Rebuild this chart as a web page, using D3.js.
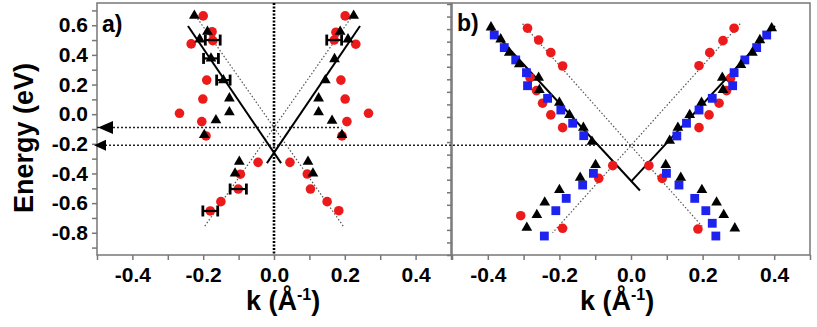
<!DOCTYPE html>
<html>
<head>
<meta charset="utf-8">
<script src="https://cdn.jsdelivr.net/npm/d3@7"></script>
<style>
  body { margin: 0; background: #fff; }
  svg text { font-family: "Liberation Sans", Arial, sans-serif; font-weight: bold; fill: #000; }
</style>
</head>
<body>
<div id="chart"></div>
<script>
'use strict';

// ticks and labels
var kTicks = [-0.5, -0.4, -0.3, -0.2, -0.1, 0, 0.1, 0.2, 0.3, 0.4, 0.5];
var kLabels = [-0.4, -0.2, 0, 0.2, 0.4];
var eTicks = [0.7, 0.6, 0.5, 0.4, 0.3, 0.2, 0.1, 0, -0.1, -0.2, -0.3, -0.4, -0.5, -0.6, -0.7, -0.8, -0.9];
var eLabels = [0.6, 0.4, 0.2, 0, -0.2, -0.4, -0.6, -0.8];

// panel a) data, [k, E]
var aCircles = [
    [-0.20, 0.663], [-0.175, 0.556], [-0.234, 0.474], [-0.173, 0.496], [-0.19, 0.23],
    [-0.201, 0.102], [-0.267, 0.006], [-0.204, -0.05], [-0.192, -0.147],
    [-0.045, -0.325], [-0.095, -0.405], [-0.101, -0.505], [-0.15, -0.59], [-0.18, -0.653],
    [0.201, 0.663], [0.175, 0.553], [0.17, 0.5], [0.231, 0.472], [0.189, 0.23],
    [0.201, 0.102], [0.267, 0.006], [0.206, -0.05], [0.192, -0.147],
    [0.045, -0.325], [0.094, -0.404], [0.103, -0.505], [0.15, -0.59], [0.183, -0.651]
];
var aTriangles = [
    [-0.225, 0.665], [-0.188, 0.557], [-0.21, 0.505], [-0.178, 0.376], [-0.143, 0.23],
    [-0.126, 0.107], [-0.126, 0.013], [-0.164, -0.04], [-0.197, -0.14],
    [-0.098, -0.32], [-0.11, -0.4],
    [0.225, 0.665], [0.187, 0.557], [0.209, 0.505], [0.171, 0.372], [0.145, 0.23],
    [0.126, 0.107], [0.126, 0.013], [0.164, -0.044], [0.192, -0.14],
    [0.096, -0.32], [0.11, -0.4]
];
// [k, E, half width]
var aErrors = [
    [-0.173, 0.5, 0.021], [-0.178, 0.376, 0.021], [-0.143, 0.23, 0.019],
    [-0.101, -0.505, 0.023], [-0.18, -0.653, 0.021], [0.17, 0.5, 0.021]
];
var aSolid = [
    [[-0.243, 0.595], [0.02, -0.33]],
    [[0.243, 0.595], [-0.02, -0.33]]
];
var aDotted = [
    [[-0.216, 0.645], [0.197, -0.76]],
    [[0.216, 0.645], [-0.197, -0.76]]
];

// panel b) data, [k, E]
var bTriangles = [
    [-0.391, 0.586], [-0.364, 0.505], [-0.34, 0.415], [-0.312, 0.337], [-0.258, 0.246],
    [-0.256, 0.163], [-0.2, 0.078], [-0.172, -0.005], [-0.133, -0.091], [-0.109, -0.186],
    [-0.099, -0.343], [-0.142, -0.428], [-0.2, -0.511], [-0.241, -0.595], [-0.263, -0.68], [-0.291, -0.766],
    [0.393, 0.58], [0.36, 0.5], [0.339, 0.415], [0.307, 0.332], [0.255, 0.246],
    [0.257, 0.163], [0.197, 0.078], [0.164, -0.005], [0.131, -0.091], [0.108, -0.179],
    [0.097, -0.343], [0.139, -0.428], [0.198, -0.511], [0.239, -0.595], [0.259, -0.68], [0.29, -0.77]
];
var bSquares = [
    [-0.382, 0.534], [-0.354, 0.449], [-0.322, 0.366], [-0.292, 0.28], [-0.289, 0.192],
    [-0.233, 0.107], [-0.196, 0.028], [-0.163, -0.061], [-0.132, -0.145],
    [-0.105, -0.399], [-0.135, -0.478], [-0.181, -0.568], [-0.21, -0.651], [-0.242, -0.822],
    [0.379, 0.534], [0.351, 0.449], [0.318, 0.366], [0.288, 0.28], [0.284, 0.192],
    [0.227, 0.107], [0.19, 0.028], [0.155, -0.061], [0.128, -0.147],
    [0.099, -0.399], [0.134, -0.478], [0.178, -0.568], [0.209, -0.651], [0.227, -0.736], [0.237, -0.822]
];
var bCircles = [
    [-0.289, 0.58], [-0.258, 0.5], [-0.224, 0.415], [-0.191, 0.325],
    [-0.282, 0.246], [-0.264, 0.159], [-0.247, 0.074], [-0.224, -0.005], [-0.191, -0.091],
    [-0.051, -0.347], [-0.09, -0.433], [-0.308, -0.685], [-0.191, -0.77],
    [0.288, 0.58], [0.257, 0.496], [0.22, 0.415], [0.19, 0.327],
    [0.278, 0.242], [0.267, 0.159], [0.246, 0.074], [0.218, -0.005], [0.19, -0.091],
    [0.05, -0.347], [0.087, -0.433], [0.187, -0.775]
];
var bSolid = [
    [[-0.395, 0.585], [0.025, -0.515]],
    [[0, -0.455], [0.402, 0.595]]
];
var bDotted = [
    [[-0.303, 0.61], [0.2, -0.76]],
    [[0.305, 0.61], [-0.219, -0.8]]
];

// horizontal guide lines with arrows (energy, end k in a, end k in b or null)
var guideE = [-0.09, -0.21];
var guideEndA = [0.19, null];
var guideEndB = [null, 0.088];

var width = 817,
    height = 327;

var red = '#ec1a1a',
    blue = '#1e22ee',
    frameColor = '#777';

var svg = d3.select('#chart').append('svg')
    .attr('width', width)
    .attr('height', height);

var y = d3.scaleLinear().domain([-0.95, 0.75]).range([255, 3]);
var xA = d3.scaleLinear().domain([-0.5, 0.5]).range([97, 451]);
var xB = d3.scaleLinear().domain([-0.5, 0.5]).range([452, 810]);
// panel b has its own finer tick marks on the left
var yTickB = d3.scaleLinear().domain([0, 20]).range([255, 4]);

var fmt = function(v) {
    if (Math.abs(v) < 1e-9) return '0.0';
    return (v < 0 ? '-' : '') + Math.abs(v).toFixed(1);
};
var hasLabel = function(list, v) {
    return list.some(function(l) { return Math.abs(l - v) < 1e-9; });
};

function styleAxis(g) {
    g.select('.domain').remove();
    g.selectAll('.tick line').attr('stroke', frameColor).attr('stroke-width', 1.5);
    g.selectAll('.tick text')
        .attr('font-size', 21)
        .attr('font-family', '"Liberation Sans", Arial, sans-serif')
        .attr('font-weight', 'bold')
        .attr('fill', '#000');
}

// frames
[xA, xB].forEach(function(x) {
    svg.append('rect')
        .attr('x', x.range()[0])
        .attr('y', y.range()[1])
        .attr('width', x.range()[1] - x.range()[0])
        .attr('height', y.range()[0] - y.range()[1])
        .attr('fill', 'none')
        .attr('stroke', frameColor)
        .attr('stroke-width', 1.5);
});

// axes
svg.append('g')
    .attr('transform', 'translate(' + xA.range()[0] + ',0)')
    .call(d3.axisLeft(y).tickValues(eTicks).tickSize(5).tickPadding(4)
        .tickFormat(function(d) { return hasLabel(eLabels, d) ? fmt(d) : ''; }))
    .call(styleAxis);

svg.append('g')
    .attr('transform', 'translate(' + xB.range()[0] + ',0)')
    .call(d3.axisLeft(yTickB).ticks(20).tickSize(5).tickFormat(''))
    .call(styleAxis);

[xA, xB].forEach(function(x) {
    svg.append('g')
        .attr('transform', 'translate(0,' + y.range()[0] + ')')
        .call(d3.axisBottom(x).tickValues(kTicks).tickSize(5).tickPadding(7)
            .tickFormat(function(d) { return hasLabel(kLabels, d) ? fmt(d) : ''; }))
        .call(styleAxis);
});

function drawPanel(x, lines, dotted, circles, squares, triangles) {
    var g = svg.append('g');
    var line = d3.line()
        .x(function(d) { return x(d[0]); })
        .y(function(d) { return y(d[1]); });

    g.selectAll('path.dotted')
        .data(dotted)
        .enter()
        .append('path')
        .attr('class', 'dotted')
        .attr('d', line)
        .attr('fill', 'none')
        .attr('stroke', '#555')
        .attr('stroke-width', 1.2)
        .attr('stroke-dasharray', '1.5,2');

    g.selectAll('path.solid')
        .data(lines)
        .enter()
        .append('path')
        .attr('class', 'solid')
        .attr('d', line)
        .attr('fill', 'none')
        .attr('stroke', '#000')
        .attr('stroke-width', 2);

    g.selectAll('circle')
        .data(circles)
        .enter()
        .append('circle')
        .attr('cx', function(d) { return x(d[0]); })
        .attr('cy', function(d) { return y(d[1]); })
        .attr('r', 4.8)
        .attr('fill', red);

    g.selectAll('path.sq')
        .data(squares)
        .enter()
        .append('path')
        .attr('class', 'sq')
        .attr('d', d3.symbol().type(d3.symbolSquare).size(78))
        .attr('transform', function(d) { return 'translate(' + x(d[0]) + ',' + y(d[1]) + ')'; })
        .attr('fill', blue);

    g.selectAll('path.tri')
        .data(triangles)
        .enter()
        .append('path')
        .attr('class', 'tri')
        .attr('d', d3.symbol().type(d3.symbolTriangle).size(50))
        .attr('transform', function(d) { return 'translate(' + x(d[0]) + ',' + y(d[1]) + ')'; })
        .attr('fill', '#000');

    return g;
}

// vertical dotted line at k = 0 in panel a
svg.append('line')
    .attr('x1', xA(0)).attr('x2', xA(0))
    .attr('y1', y.range()[1]).attr('y2', y.range()[0])
    .attr('stroke', '#000')
    .attr('stroke-width', 2.6)
    .attr('stroke-dasharray', '2,1.5');

// horizontal guides across the panels
guideE.forEach(function(e, i) {
    var xEnd = guideEndA[i] !== null ? xA(guideEndA[i]) : xB(guideEndB[i]);
    svg.append('line')
        .attr('x1', xA(-0.5)).attr('x2', xEnd)
        .attr('y1', y(e)).attr('y2', y(e))
        .attr('stroke', '#222')
        .attr('stroke-width', 1.6)
        .attr('stroke-dasharray', '2,2');
});

drawPanel(xA, aSolid, aDotted, aCircles, [], aTriangles);
drawPanel(xB, bSolid, bDotted, bCircles, bSquares, bTriangles);

// error bars in panel a
var eb = svg.append('g').attr('stroke', '#000').attr('stroke-width', 2.2);
aErrors.forEach(function(d) {
    var x0 = xA(d[0] - d[2]), x1 = xA(d[0] + d[2]), yy = y(d[1]);
    eb.append('line').attr('x1', x0).attr('x2', x1).attr('y1', yy).attr('y2', yy);
    eb.append('line').attr('x1', x0).attr('x2', x0).attr('y1', yy - 5.5).attr('y2', yy + 5.5).attr('stroke-width', 2.8);
    eb.append('line').attr('x1', x1).attr('x2', x1).attr('y1', yy - 5.5).attr('y2', yy + 5.5).attr('stroke-width', 2.8);
});

// arrowheads on the left axis
svg.selectAll('path.arrow')
    .data(guideE)
    .enter()
    .append('path')
    .attr('class', 'arrow')
    .attr('d', function(e, i) {
        var tip = xA(-0.5) + (i === 0 ? 1 : -3),
            w = i === 0 ? 15 : 12,
            h = i === 0 ? 6.5 : 5.5,
            yy = y(e);
        return 'M' + tip + ',' + yy + 'L' + (tip + w) + ',' + (yy - h) + 'L' + (tip + w) + ',' + (yy + h) + 'Z';
    })
    .attr('fill', '#000');

// panel labels
svg.append('text').attr('x', 102).attr('y', 32).attr('font-size', 23).text('a)');
svg.append('text').attr('x', 457).attr('y', 31).attr('font-size', 23).text('b)');

// axis titles
svg.append('text')
    .attr('transform', 'translate(33,138) rotate(-90)')
    .attr('text-anchor', 'middle')
    .attr('font-size', 27)
    .text('Energy (eV)');

[[xA, 9], [xB, -14]].forEach(function(p) {
    var t = svg.append('text')
        .attr('x', p[0](0) + p[1])
        .attr('y', 310)
        .attr('text-anchor', 'middle')
        .attr('font-size', 27);
    t.append('tspan').text('k (Å');
    t.append('tspan').attr('font-size', 16).attr('dy', -10).text('-1');
    t.append('tspan').attr('dy', 10).text(')');
});
</script>
</body>
</html>
